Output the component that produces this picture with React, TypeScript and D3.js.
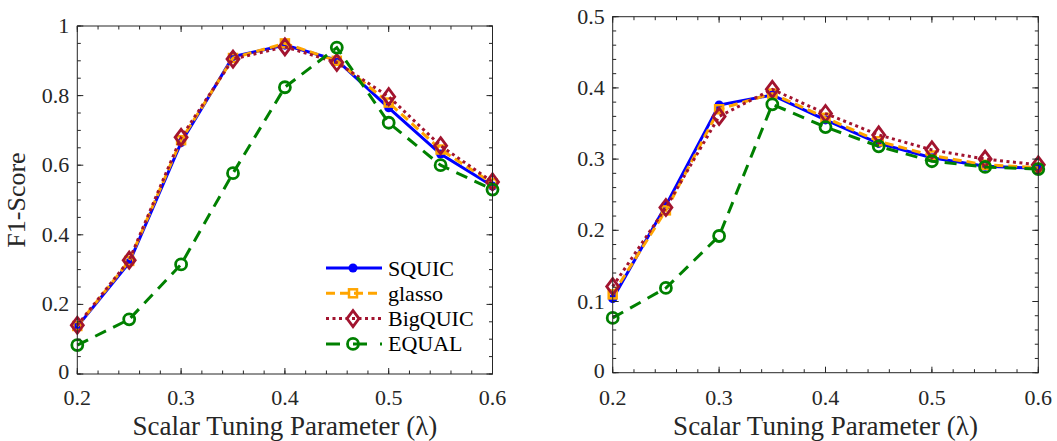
import React from "react";
import * as d3 from "d3";

const lambdas = [0.2, 0.25, 0.3, 0.35, 0.4, 0.45, 0.5, 0.55, 0.6];

// Left panel (F1-score)
const leftSQUIC = [0.136, 0.32, 0.665, 0.912, 0.945, 0.902, 0.765, 0.632, 0.54];
const leftGlasso = [0.138, 0.325, 0.672, 0.908, 0.95, 0.9, 0.78, 0.645, 0.548];
const leftBigQUIC = [0.14, 0.327, 0.68, 0.905, 0.94, 0.895, 0.797, 0.656, 0.552];
const leftEQUAL = [0.083, 0.157, 0.315, 0.577, 0.824, 0.938, 0.722, 0.6, 0.53];

// Right panel
const rightSQUIC = [0.104, 0.235, 0.376, 0.39, 0.355, 0.322, 0.302, 0.29, 0.287];
const rightGlasso = [0.11, 0.228, 0.37, 0.392, 0.358, 0.325, 0.305, 0.292, 0.288];
const rightBigQUIC = [0.121, 0.232, 0.36, 0.398, 0.364, 0.334, 0.313, 0.3, 0.292];
const rightEQUAL = [0.077, 0.119, 0.192, 0.377, 0.345, 0.318, 0.297, 0.289, 0.286];

const seriesNames = ["SQUIC", "glasso", "BigQUIC", "EQUAL"];
const xTicks = [0.2, 0.3, 0.4, 0.5, 0.6];
const leftYTicks = [0, 0.2, 0.4, 0.6, 0.8, 1];
const rightYTicks = [0, 0.1, 0.2, 0.3, 0.4, 0.5];

const styles = [
  { color: "#0000ff", dash: "none", marker: "dot" },
  { color: "#ffa500", dash: "9,5", marker: "square" },
  { color: "#a2142f", dash: "3,3.5", marker: "diamond" },
  { color: "#008000", dash: "12,8", marker: "circle" },
];

const FONT = "Liberation Serif, DejaVu Serif, serif";
const AXIS = "#262626";

function Marker({ type, x, y, color }: { type: string; x: number; y: number; color: string }) {
  if (type === "dot") return <circle cx={x} cy={y} r={4.5} fill={color} />;
  if (type === "square")
    return <rect x={x - 4} y={y - 4} width={8} height={8} fill="none" stroke={color} strokeWidth={2.5} />;
  if (type === "diamond")
    return (
      <path
        d={`M${x},${y - 8} L${x + 6},${y} L${x},${y + 8} L${x - 6},${y} Z`}
        fill="none"
        stroke={color}
        strokeWidth={2.8}
      />
    );
  return <circle cx={x} cy={y} r={5.5} fill="none" stroke={color} strokeWidth={2.8} />;
}

function Panel({
  x0, x1, y0, y1, yMax, yTicks, yMinorStep, data, legend, ylabel, tickFmt,
}: {
  x0: number; x1: number; y0: number; y1: number; yMax: number; yTicks: number[];
  yMinorStep: number; data: number[][]; legend: boolean; ylabel?: string; tickFmt: (v: number) => string;
}) {
  const xs = d3.scaleLinear().domain([0.2, 0.6]).range([x0, x1]);
  const ys = d3.scaleLinear().domain([0, yMax]).range([y1, y0]);
  const xMinor = d3.range(0.2, 0.6001, 0.02);
  const yMinor = d3.range(0, yMax + 1e-9, yMinorStep);
  const line = d3
    .line<number>()
    .x((_, i) => xs(lambdas[i]))
    .y((d) => ys(d));
  const TL = 6;
  const TM = 3.5;
  const legY0 = 268;
  const legDy = 25.3;
  const txt = { fontFamily: FONT };
  return (
    <g>
      {data.map((s, k) => (
        <g key={k}>
          <path
            d={line(s) || ""}
            fill="none"
            stroke={styles[k].color}
            strokeWidth={3}
            strokeDasharray={styles[k].dash}
          />
          {s.map((v, i) => (
            <Marker key={i} type={styles[k].marker} x={xs(lambdas[i])} y={ys(v)} color={styles[k].color} />
          ))}
        </g>
      ))}
      <rect x={x0} y={y0} width={x1 - x0} height={y1 - y0} fill="none" stroke={AXIS} strokeWidth={1} />
      {xMinor.map((v, i) => (
        <g key={"xm" + i}>
          <line x1={xs(v)} x2={xs(v)} y1={y1} y2={y1 - TM} stroke={AXIS} />
          <line x1={xs(v)} x2={xs(v)} y1={y0} y2={y0 + TM} stroke={AXIS} />
        </g>
      ))}
      {yMinor.map((v, i) => (
        <g key={"ym" + i}>
          <line x1={x0} x2={x0 + TM} y1={ys(v)} y2={ys(v)} stroke={AXIS} />
          <line x1={x1} x2={x1 - TM} y1={ys(v)} y2={ys(v)} stroke={AXIS} />
        </g>
      ))}
      {xTicks.map((v, i) => (
        <g key={"xt" + i}>
          <line x1={xs(v)} x2={xs(v)} y1={y1} y2={y1 - TL} stroke={AXIS} />
          <line x1={xs(v)} x2={xs(v)} y1={y0} y2={y0 + TL} stroke={AXIS} />
          <text x={xs(v)} y={405} textAnchor="middle" style={txt} fontSize={22} fill={AXIS}>
            {v.toFixed(1)}
          </text>
        </g>
      ))}
      {yTicks.map((v, i) => (
        <g key={"yt" + i}>
          <line x1={x0} x2={x0 + TL} y1={ys(v)} y2={ys(v)} stroke={AXIS} />
          <line x1={x1} x2={x1 - TL} y1={ys(v)} y2={ys(v)} stroke={AXIS} />
          <text
            x={x0 - 8}
            y={ys(v) + (v === 0 ? 5 : 7)}
            textAnchor="end"
            style={txt}
            fontSize={22}
            fill={AXIS}
          >
            {tickFmt(v)}
          </text>
        </g>
      ))}
      <text x={(x0 + x1) / 2} y={435} textAnchor="middle" style={txt} fontSize={27} fill={AXIS}>
        Scalar Tuning Parameter (λ)
      </text>
      {ylabel && (
        <text
          transform={`translate(25,${(y0 + y1) / 2}) rotate(-90)`}
          textAnchor="middle"
          style={txt}
          fontSize={26}
          fill={AXIS}
        >
          {ylabel}
        </text>
      )}
      {legend &&
        seriesNames.map((n, k) => {
          const ly = legY0 + k * legDy;
          return (
            <g key={"lg" + k}>
              <line
                x1={326}
                x2={382}
                y1={ly}
                y2={ly}
                stroke={styles[k].color}
                strokeWidth={3}
                strokeDasharray={styles[k].dash === "12,8" ? "14,13" : styles[k].dash}
              />
              <Marker type={styles[k].marker} x={353} y={ly} color={styles[k].color} />
              <text x={388} y={ly + 7.5} style={txt} fontSize={22} fill="#000">
                {n}
              </text>
            </g>
          );
        })}
    </g>
  );
}

export default function App() {
  const fmtL = (v: number) => (v === 0 || v === 1 ? String(v) : v.toFixed(1));
  const fmtR = (v: number) => (v === 0 ? "0" : v.toFixed(1));
  return (
    <svg width={1057} height={441} style={{ position: "absolute", left: 0, top: 0, background: "#fff" }}>
      <rect width={1057} height={441} fill="#fff" />
      <Panel
        x0={77.3}
        x1={492.5}
        y0={26}
        y1={374}
        yMax={1}
        yTicks={leftYTicks}
        yMinorStep={0.05}
        data={[leftSQUIC, leftGlasso, leftBigQUIC, leftEQUAL]}
        legend={true}
        ylabel="F1-Score"
        tickFmt={fmtL}
      />
      <Panel
        x0={612.7}
        x1={1038.3}
        y0={16.7}
        y1={372.7}
        yMax={0.5}
        yTicks={rightYTicks}
        yMinorStep={0.02}
        data={[rightSQUIC, rightGlasso, rightBigQUIC, rightEQUAL]}
        legend={false}
        tickFmt={fmtR}
      />
    </svg>
  );
}
